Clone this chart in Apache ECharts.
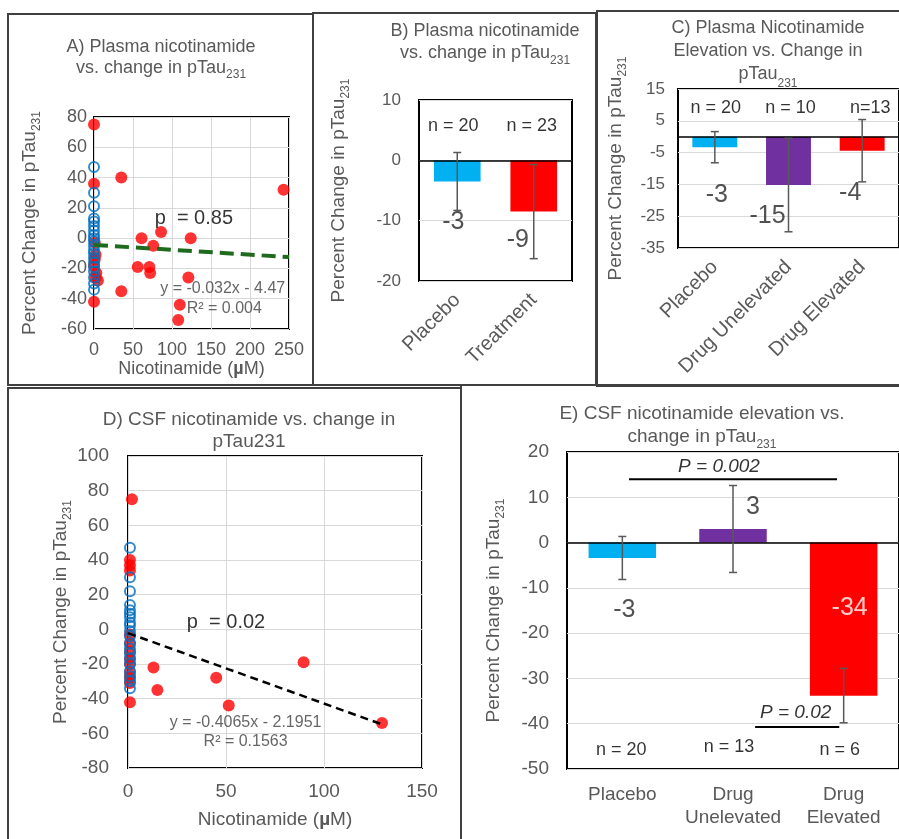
<!DOCTYPE html>
<html>
<head>
<meta charset="utf-8">
<script src="https://cdn.jsdelivr.net/npm/echarts@6/dist/echarts.min.js"></script>
<style>
  html, body { margin: 0; padding: 0; background: #fff; }
  #main { width: 899px; height: 839px; }
</style>
</head>
<body>
<div id="main"></div>
<script>
// ---- data ----
// A) plasma nicotinamide (uM) vs % change in pTau231
var aPlaceboX = [0, 0, 0, 0, 0, 0, 0, 0, 0, 0, 0, 0, 0, 0, 0, 0, 0, 0, 0, 0];
var aPlaceboY = [47, 30, 21, 13, 11, 8, 5, 2, 0, -2, -5, -8, -10, -13, -16, -19, -22, -26, -30, -34];
var aDrugX = [0, 0, 0, 1, 2, 1, 3, 2, 0, 5, 35, 35, 61, 56, 71, 72, 76, 86, 110, 108, 121, 124, 243];
var aDrugY = [75, 36, -42, -3, -11, -14, -23, -26, -18, -28, 40, -35, 0, -19, -19, -23, -5, 4, -44, -54, -26, 0, 32];
var aTrendX = [0, 250];
var aTrendY = [-4.5, -12.5];

// B) placebo vs treatment
var bCats = ['Placebo', 'Treatment'];
var bMeans = [-3.5, -8.5];
var bErr = [4.8, 7.8];
var bLabels = ['-3', '-9'];
var bN = ['n = 20', 'n = 23'];

// C) plasma elevation groups
var cCats = ['Placebo', 'Drug Unelevated', 'Drug Elevated'];
var cMeans = [-3.3, -15.2, -4.4];
var cErr = [4.9, 14.7, 9.8];
var cLabels = ['-3', '-15', '-4'];
var cN = ['n = 20', 'n = 10', 'n=13'];

// D) CSF nicotinamide (uM) vs % change in pTau231
var dPlaceboX = [1, 1, 1, 1, 1, 1, 1, 1, 1, 1, 1, 1, 1, 1, 1, 1, 1, 1, 1, 1];
var dPlaceboY = [47, 30, 22, 14, 11, 9, 7, 4, 2, -1, -4, -8, -11, -14, -17, -20, -24, -27, -30, -34];
var dDrugX = [2, 1, 1, 1, 1, 1, 1, 1, 1, 1, 1, 1, 1, 13, 15, 45, 51.4, 89.6, 129.6];
var dDrugY = [75, 40, 37, 34, -42, -3, -8, -13, -17, -20, -25, -28, -31, -22, -35, -28, -44, -19, -54];
var dTrendX = [0, 130];
var dTrendY = [-2.2, -55];

// E) CSF elevation groups
var eCats = ['Placebo', 'Drug\nUnelevated', 'Drug\nElevated'];
var eMeans = [-3.4, 3.0, -33.8];
var eErr = [4.75, 9.6, 6.0];
var eLabels = ['-3', '3', '-34'];
var eN = ['n = 20', 'n = 13', 'n = 6'];

// ---- styles ----
var FONT = 'Liberation Sans, Arial, sans-serif';
var GRAY = '#595959';
var GRID_LINE = '#d9d9d9';
var CYAN = '#00B0F0', PURPLE = '#7030A0', RED = '#FF0000', BLUE = '#0070C0';

function pairs(xs, ys) {
  return xs.map(function (x, i) { return [x, ys[i]]; });
}

function yName(size) {
  return {
    rich: {
      m: { fontSize: size, color: GRAY, fontFamily: FONT, lineHeight: size + 3, verticalAlign: 'top' },
      s: { fontSize: 12, color: GRAY, fontFamily: FONT, lineHeight: 12, verticalAlign: 'top', padding: [size * 0.55, 0, 0, 0] }
    }
  };
}
var Y_TITLE = '{m|Percent Change in pTau}{s|231}';

function titleText(x, y, text, size, lh) {
  return {
    type: 'text', x: x, y: y, z: 100,
    style: {
      text: text, align: 'center', verticalAlign: 'middle',
      fontSize: size, fontFamily: FONT, fill: GRAY, lineHeight: lh,
      rich: {
        m: { fontSize: size, fill: GRAY, fontFamily: FONT, lineHeight: lh, verticalAlign: 'top' },
        s: { fontSize: 12, fill: GRAY, fontFamily: FONT, lineHeight: 10, verticalAlign: 'top', padding: [lh - 11, 0, 0, 0] }
      }
    }
  };
}

function panelBox(x, y, w, h) {
  return { type: 'rect', shape: { x: x, y: y, width: w, height: h }, z: 0,
    style: { fill: 'none', stroke: '#404040', lineWidth: 2 } };
}

function errRender(params, api) {
  var c = api.value(0);
  var top = api.coord([c, api.value(2)]);
  var bot = api.coord([c, api.value(1)]);
  var w = 4;
  var st = { stroke: GRAY, lineWidth: 1.5 };
  return { type: 'group', children: [
    { type: 'line', shape: { x1: top[0], y1: top[1], x2: bot[0], y2: bot[1] }, style: st },
    { type: 'line', shape: { x1: top[0] - w, y1: top[1], x2: top[0] + w, y2: top[1] }, style: st },
    { type: 'line', shape: { x1: bot[0] - w, y1: bot[1], x2: bot[0] + w, y2: bot[1] }, style: st }
  ]};
}

function errData(means, errs) {
  return means.map(function (m, i) { return [i, m - errs[i], m + errs[i]]; });
}

function barSeries(gi, means, colors) {
  return {
    type: 'bar', xAxisIndex: gi, yAxisIndex: gi, barWidth: '61%', z: 2,
    data: means.map(function (m, i) { return { value: m, itemStyle: { color: colors[i] } }; }),
    markLine: { symbol: 'none', silent: true, label: { show: false },
      lineStyle: { color: '#000', width: 1.5, type: 'solid' }, data: [{ yAxis: 0 }] }
  };
}

function errSeries(gi, means, errs) {
  return { type: 'custom', xAxisIndex: gi, yAxisIndex: gi, z: 5, renderItem: errRender,
    encode: { x: 0, y: [1, 2] }, data: errData(means, errs) };
}

// text placed in data space of a grid
function textSeries(gi, items, style) {
  return {
    type: 'scatter', xAxisIndex: gi, yAxisIndex: gi, symbolSize: 1, silent: true, clip: false, z: 10,
    itemStyle: { color: 'rgba(0,0,0,0)' },
    data: items.map(function (it) {
      return { value: [it[0], it[1]], label: Object.assign({ show: true, position: 'inside',
        formatter: it[2], offset: [it[3] || 0, 0], fontFamily: FONT }, style, it[4] || {}) };
    })
  };
}

var chart = echarts.init(document.getElementById('main'), null, { renderer: 'canvas' });

var grids = [
  { left: 94, top: 117, width: 195, height: 212 },   // A
  { left: 419, top: 100, width: 153, height: 181 },  // B
  { left: 678, top: 89, width: 227, height: 159 },   // C
  { left: 128, top: 456, width: 294, height: 312 },  // D
  { left: 567, top: 452, width: 340, height: 317 }   // E
].map(function (g) {
  return Object.assign({ show: true, borderColor: '#000', borderWidth: 2, backgroundColor: 'transparent' }, g);
});

var noLine = { show: false };
var xAxes = [
  { type: 'value', gridIndex: 0, min: 0, max: 250, interval: 50,
    axisLine: noLine, axisTick: noLine,
    axisLabel: { fontSize: 18, color: GRAY, fontFamily: FONT, margin: 12 },
    splitLine: { lineStyle: { color: GRID_LINE } },
    name: 'Nicotinamide ({b|µ}M)', nameLocation: 'middle', nameGap: 30,
    nameTextStyle: { fontSize: 18, color: GRAY, fontFamily: FONT,
      rich: { b: { fontSize: 18, fontWeight: 'bold', color: GRAY, fontFamily: FONT } } } },
  { type: 'category', gridIndex: 1, data: bCats, axisLine: noLine, axisTick: noLine,
    axisLabel: { interval: 0, rotate: 45, fontSize: 20, color: GRAY, fontFamily: FONT, margin: 16 } },
  { type: 'category', gridIndex: 2, data: cCats, axisLine: noLine, axisTick: noLine,
    axisLabel: { interval: 0, rotate: 45, fontSize: 20, color: GRAY, fontFamily: FONT, margin: 16 } },
  { type: 'value', gridIndex: 3, min: 0, max: 150, interval: 50,
    axisLine: noLine, axisTick: noLine,
    axisLabel: { fontSize: 19, color: GRAY, fontFamily: FONT, margin: 14 },
    splitLine: { lineStyle: { color: GRID_LINE } },
    name: 'Nicotinamide ({b|µ}M)', nameLocation: 'middle', nameGap: 42,
    nameTextStyle: { fontSize: 19, color: GRAY, fontFamily: FONT,
      rich: { b: { fontSize: 19, fontWeight: 'bold', color: GRAY, fontFamily: FONT } } } },
  { type: 'category', gridIndex: 4, data: eCats, axisLine: noLine, axisTick: noLine,
    axisLabel: { interval: 0, fontSize: 19, color: GRAY, fontFamily: FONT, margin: 14, lineHeight: 23 } }
];

function yAx(gi, min, max, step, size, margin, gap) {
  return { type: 'value', gridIndex: gi, min: min, max: max, interval: step,
    axisLine: noLine, axisTick: noLine,
    axisLabel: { fontSize: size, color: GRAY, fontFamily: FONT, margin: margin },
    splitLine: { lineStyle: { color: GRID_LINE } },
    name: Y_TITLE, nameLocation: 'middle', nameGap: gap, nameTextStyle: yName(19) };
}
var yAxes = [
  yAx(0, -60, 80, 20, 18, 7, 52),
  yAx(1, -20, 10, 10, 17, 18, 68),
  yAx(2, -35, 15, 10, 17, 13, 50),
  yAx(3, -80, 100, 20, 19, 19, 54),
  yAx(4, -50, 20, 10, 19, 18, 61)
];

var bigLab = { fontSize: 25, color: '#262626' };
var nLab = { fontSize: 18, color: '#000' };
var statLab = { fontSize: 20, color: '#000' };
var eqLab = { fontSize: 16, color: '#404040' };

var series = [
  // A
  { type: 'scatter', xAxisIndex: 0, yAxisIndex: 0, symbolSize: 12, clip: false, z: 2,
    itemStyle: { color: RED }, data: pairs(aDrugX, aDrugY) },
  { type: 'scatter', xAxisIndex: 0, yAxisIndex: 0, symbolSize: 10, clip: false, z: 3,
    itemStyle: { color: 'rgba(255,255,255,0)', borderColor: BLUE, borderWidth: 2 }, data: pairs(aPlaceboX, aPlaceboY) },
  { type: 'line', xAxisIndex: 0, yAxisIndex: 0, symbol: 'none', z: 4,
    lineStyle: { color: '#1E6B1E', width: 4, type: [14, 7] }, data: pairs(aTrendX, aTrendY) },
  textSeries(0, [[128, 13.3, 'p  = 0.85']], statLab),
  textSeries(0, [[165, -33.6, 'y = -0.032x - 4.47'], [167, -46.2, 'R² = 0.004']], eqLab),

  // B
  barSeries(1, bMeans, [CYAN, RED]),
  errSeries(1, bMeans, bErr),
  textSeries(1, [[0, -10.3, bLabels[0], -4], [1, -13.3, bLabels[1], -16]], bigLab),
  textSeries(1, [[0, 5.7, bN[0], -4], [1, 5.7, bN[1], -2]], nLab),

  // C
  barSeries(2, cMeans, [CYAN, PURPLE, RED]),
  errSeries(2, cMeans, cErr),
  textSeries(2, [[0, -18.3, cLabels[0], 2], [1, -25, cLabels[1], -21], [2, -17.7, cLabels[2], -12]], bigLab),
  textSeries(2, [[0, 9, cN[0], 1], [1, 9, cN[1], 2], [2, 9, cN[2], 8]], nLab),

  // D
  { type: 'scatter', xAxisIndex: 3, yAxisIndex: 3, symbolSize: 12, clip: false, z: 2,
    itemStyle: { color: RED }, data: pairs(dDrugX, dDrugY) },
  { type: 'scatter', xAxisIndex: 3, yAxisIndex: 3, symbolSize: 10, clip: false, z: 3,
    itemStyle: { color: 'rgba(255,255,255,0)', borderColor: BLUE, borderWidth: 2 }, data: pairs(dPlaceboX, dPlaceboY) },
  { type: 'line', xAxisIndex: 3, yAxisIndex: 3, symbol: 'none', z: 4,
    lineStyle: { color: '#000', width: 2.5, type: [8, 5] }, data: pairs(dTrendX, dTrendY) },
  textSeries(3, [[50, 4.2, 'p  = 0.02']], statLab),
  textSeries(3, [[60, -54, 'y = -0.4065x - 2.1951'], [60, -65, 'R² = 0.1563']], eqLab),

  // E
  barSeries(4, eMeans, [CYAN, PURPLE, RED]),
  errSeries(4, eMeans, eErr),
  textSeries(4, [[0, -14.9, eLabels[0], 2], [1, 7.9, eLabels[1], 20], [2, -14.4, eLabels[2], 6, { color: '#fff' }]], bigLab),
  textSeries(4, [[0, -45.8, eN[0], -1], [1, -45.1, eN[1], -4], [2, -45.8, eN[2], -4]], nLab),
  textSeries(4, [[1, 16.7, 'P = 0.002', -14], [2, -37.6, 'P = 0.02', -48]],
    { fontSize: 19, color: '#000', fontStyle: 'italic' }),
  { type: 'custom', xAxisIndex: 4, yAxisIndex: 4, z: 6,
    encode: { x: 3, y: 0 },
    data: [[14.0, 0.06, 1.94, 0], [-40.7, 1.2, 1.96, 0]],
    renderItem: function (params, api) {
      var y = api.value(0);
      var c0 = api.coord([0, y]), c1 = api.coord([1, y]);
      var step = c1[0] - c0[0];
      return { type: 'line',
        shape: { x1: c0[0] + api.value(1) * step, y1: c0[1], x2: c0[0] + api.value(2) * step, y2: c0[1] },
        style: { stroke: '#000', lineWidth: 2 } };
    } }
];

var graphics = [
  panelBox(8, 14, 305, 371),
  panelBox(313, 13, 283, 372),
  panelBox(597, 11, 310, 375),
  panelBox(8, 388, 453, 460),
  panelBox(461, 385, 450, 460),
  titleText(161, 59, '{m|A) Plasma nicotinamide}\n{m|vs. change in pTau}{s|231}', 18, 21),
  titleText(485, 44, '{m|B) Plasma nicotinamide}\n{m|vs. change in pTau}{s|231}', 18, 22),
  titleText(768, 54, '{m|C) Plasma Nicotinamide}\n{m|Elevation vs. Change in}\n{m|pTau}{s|231}', 18, 23),
  titleText(249, 432, '{m|D) CSF nicotinamide vs. change in}\n{m|pTau231}', 19, 22),
  titleText(702, 427, '{m|E) CSF nicotinamide elevation vs.}\n{m|change in pTau}{s|231}', 19, 23)
];

chart.setOption({
  animation: false,
  textStyle: { fontFamily: FONT },
  grid: grids,
  xAxis: xAxes,
  yAxis: yAxes,
  series: series,
  graphic: graphics
});
</script>
</body>
</html>
